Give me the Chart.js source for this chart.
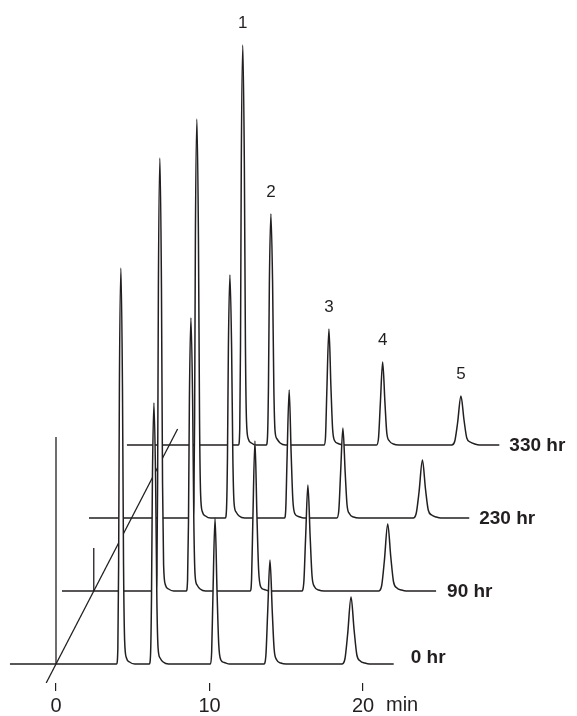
<!DOCTYPE html>
<html>
<head>
<meta charset="utf-8">
<script src="https://cdn.jsdelivr.net/npm/chart.js@4.4.1/dist/chart.umd.min.js"></script>
<style>
  html, body { margin: 0; padding: 0; background: #fff; }
  #wrap { width: 577px; height: 716px; }
</style>
</head>
<body>
<div id="wrap"><canvas id="cromatograma"></canvas></div>
<script>
const runLabels = ['0 hr', '90 hr', '230 hr', '330 hr'];

const time0 = [-3.0,
    3.95, 4.03, 4.08, 4.13, 4.23, 4.33, 4.40, 4.47, 4.59, 4.79, 5.13,
    6.08, 6.16, 6.22, 6.28, 6.38, 6.49, 6.57, 6.65, 6.78, 6.98, 7.33,
    10.06, 10.14, 10.22, 10.36, 10.49, 10.60, 10.74, 10.96, 11.31,
    13.54, 13.67, 13.79, 13.94, 14.09, 14.21, 14.38, 14.64, 14.99,
    18.62, 18.82, 19.00, 19.22, 19.42, 19.60, 19.82, 20.12, 20.42,
    22.0];
const signal0 = [0,
    0, 16, 99, 277, 396, 277, 99, 24, 6, 2, 0,
    0, 10, 65, 183, 261, 183, 65, 16, 6, 2, 0,
    0, 12, 66, 146, 73, 20, 4, 1.5, 0,
    0, 8, 52, 104, 52, 15, 4, 1, 0,
    0, 5, 30, 67, 34, 9, 3, 1, 0,
    0];

const time90 = [-2.07,
    4.03, 4.11, 4.16, 4.21, 4.31, 4.41, 4.48, 4.55, 4.67, 4.87, 5.21,
    6.03, 6.11, 6.17, 6.23, 6.33, 6.44, 6.52, 6.60, 6.73, 6.93, 7.28,
    10.20, 10.28, 10.36, 10.50, 10.63, 10.74, 10.88, 11.10, 11.45,
    13.55, 13.68, 13.80, 13.95, 14.10, 14.22, 14.39, 14.65, 15.00,
    18.55, 18.75, 18.93, 19.15, 19.35, 19.53, 19.75, 20.05, 20.35,
    22.3];
const signal90 = [0,
    0, 17, 108, 303, 433, 303, 108, 26, 6, 2, 0,
    0, 11, 68, 191, 273, 191, 68, 16, 6, 2, 0,
    0, 12, 68, 150, 75, 21, 4, 1.5, 0,
    0, 8, 53, 106, 53, 15, 4, 1, 0,
    0, 5, 30, 67, 34, 9, 3, 1, 0,
    0];

const time230 = [-2.77,
    3.98, 4.06, 4.11, 4.16, 4.26, 4.36, 4.43, 4.50, 4.62, 4.82, 5.16,
    6.11, 6.19, 6.25, 6.31, 6.41, 6.52, 6.60, 6.68, 6.81, 7.01, 7.36,
    9.97, 10.05, 10.13, 10.27, 10.40, 10.51, 10.65, 10.87, 11.22,
    13.37, 13.50, 13.62, 13.77, 13.92, 14.04, 14.21, 14.47, 14.82,
    18.35, 18.55, 18.73, 18.95, 19.15, 19.33, 19.55, 19.85, 20.15,
    22.0];
const signal230 = [0,
    0, 16, 100, 279, 399, 279, 100, 24, 6, 2, 0,
    0, 10, 61, 170, 243, 170, 61, 15, 6, 2, 0,
    0, 10, 58, 128, 64, 18, 4, 1.5, 0,
    0, 7, 45, 90, 45, 13, 4, 1, 0,
    0, 5, 26, 58, 29, 8, 3, 1, 0,
    0];

const time330 = [-2.76,
    4.51, 4.59, 4.64, 4.69, 4.79, 4.89, 4.96, 5.03, 5.15, 5.35, 5.69,
    6.32, 6.40, 6.46, 6.52, 6.62, 6.73, 6.81, 6.89, 7.02, 7.22, 7.57,
    10.10, 10.18, 10.26, 10.40, 10.53, 10.64, 10.78, 11.00, 11.35,
    13.50, 13.63, 13.75, 13.90, 14.05, 14.17, 14.34, 14.60, 14.95,
    18.40, 18.60, 18.78, 19.00, 19.20, 19.38, 19.60, 19.90, 20.20,
    21.5];
const signal330 = [0,
    0, 16, 100, 280, 400, 280, 100, 24, 6, 2, 0,
    0, 9, 58, 162, 231, 162, 58, 14, 6, 2, 0,
    0, 9, 52, 116, 58, 16, 4, 1.5, 0,
    0, 7, 42, 83, 42, 12, 4, 1, 0,
    0, 4, 22, 49, 25, 7, 3, 1, 0,
    0];

// picos numerados (sobre la corrida de 330 hr)
const peakNames = ['1', '2', '3', '4', '5'];
const peakTimes330 = [4.79, 6.62, 10.40, 13.90, 19.00];
const peakHeights330 = [400, 231, 116, 83, 49];

const xTicks = [0, 10, 20];
const xUnit = 'min';

// desplazamiento de cada corrida en la vista en cascada
const stepT = 2.46;
const stepS = 73;
const ink = '#231f20';
const fuente = '"Liberation Sans", Arial, Helvetica, sans-serif';

const tiempos = [time0, time90, time230, time330];
const senales = [signal0, signal90, signal230, signal330];

function puntos(k) {
    return tiempos[k].map((t, i) => ({x: t + k * stepT, y: senales[k][i] + k * stepS}));
}

var datasets = [];
for (var k = 0; k < runLabels.length; k++) {
    datasets.push({
        label: runLabels[k],
        data: puntos(k),
        borderColor: ink,
        borderWidth: 1.5,
        pointRadius: 0,
        backgroundColor: '#ffffff',
        fill: {value: k * stepS},   // tapa lo que queda detras de cada pico
        cubicInterpolationMode: 'monotone'
    });
}

// marco de la cascada: eje vertical, marca de 90 hr y diagonal
const alturaEje = 227;
const alturaMarca = 43;
const diagDesde = -0.26, diagHasta = 3.22;
const marco = [
    [{x: 0, y: 0}, {x: 0, y: alturaEje}],
    [{x: stepT, y: stepS}, {x: stepT, y: stepS + alturaMarca}],
    [{x: diagDesde * stepT, y: diagDesde * stepS}, {x: diagHasta * stepT, y: diagHasta * stepS}]
];
marco.forEach(function (linea) {
    datasets.push({
        data: linea,
        borderColor: ink,
        borderWidth: 1.3,
        pointRadius: 0,
        fill: false
    });
});

// desplazamiento de las etiquetas de cada corrida (px)
const rotuloDesplaz = [[17, -6], [11, 1], [10, 1], [10, 1]];

const rotulos = {
    id: 'rotulos',
    afterDraw(chart) {
        const ctx = chart.ctx;
        const x = chart.scales.x, y = chart.scales.y;
        ctx.save();
        ctx.fillStyle = ink;
        ctx.textBaseline = 'middle';

        ctx.font = 'bold 19px ' + fuente;
        ctx.textAlign = 'left';
        runLabels.forEach(function (lab, k) {
            const tFin = tiempos[k][tiempos[k].length - 1] + k * stepT;
            ctx.fillText(lab, x.getPixelForValue(tFin) + rotuloDesplaz[k][0],
                y.getPixelForValue(k * stepS) + rotuloDesplaz[k][1]);
        });

        ctx.font = '17px ' + fuente;
        ctx.textAlign = 'center';
        peakNames.forEach(function (n, i) {
            ctx.fillText(n, x.getPixelForValue(peakTimes330[i] + 3 * stepT),
                y.getPixelForValue(peakHeights330[i] + 3 * stepS) - 22);
        });

        ctx.font = '20px ' + fuente;
        ctx.textAlign = 'left';
        ctx.fillText(xUnit, x.getPixelForValue(20) + 23, chart.chartArea.bottom + 22);
        ctx.restore();
    }
};

new Chart('cromatograma', {
    type: 'line',
    data: {datasets: datasets},
    options: {
        responsive: true,
        maintainAspectRatio: false,
        animation: false,
        layout: {padding: 0},
        plugins: {
            legend: {display: false},
            tooltip: {enabled: false}
        },
        scales: {
            x: {
                type: 'linear',
                min: -3.648,
                max: 33.94,
                afterBuildTicks: function (s) { s.ticks = xTicks.map(v => ({value: v})); },
                afterFit: function (s) { s.height = 33; },
                grid: {display: true, drawOnChartArea: false, drawTicks: true, tickLength: 8, color: ink, lineWidth: 1.2},
                border: {display: false},
                ticks: {color: ink, font: {size: 20, family: fuente}, padding: 3, maxRotation: 0, autoSkip: false}
            },
            y: {
                display: false,
                min: -19,
                max: 664
            }
        }
    },
    plugins: [rotulos]
});
</script>
</body>
</html>
